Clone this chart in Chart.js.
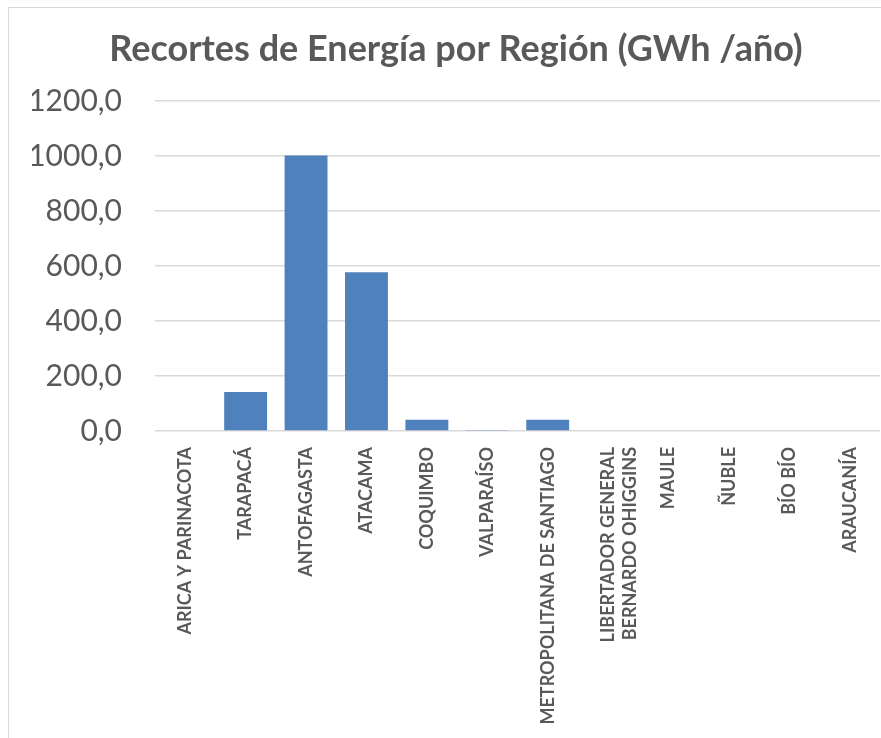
<!DOCTYPE html>
<html lang="es">
<head>
    <meta charset="UTF-8">
    <title>Recortes de Energía por Región</title>
    <script src="https://cdn.jsdelivr.net/npm/chart.js@4.4.0/dist/chart.umd.min.js"></script>
    <style>
        html, body { margin: 0; padding: 0; background: #fff; }
        #wrap { position: relative; width: 881px; height: 738px; }
        #frame { position: absolute; left: 8px; top: 7px; width: 880px; height: 740px; border: 1px solid #d9d9d9; box-sizing: border-box; }
        canvas { position: absolute; left: 0; top: 0; }
    </style>
</head>
<body>
<div id="wrap">
    <div id="frame"></div>
    <canvas id="chart" width="881" height="738"></canvas>
</div>
<script>
    // regiones (eje X)
    var regiones = [
        'ARICA Y PARINACOTA',
        'TARAPACÁ',
        'ANTOFAGASTA',
        'ATACAMA',
        'COQUIMBO',
        'VALPARAÍSO',
        'METROPOLITANA DE SANTIAGO',
        ['LIBERTADOR GENERAL', 'BERNARDO OHIGGINS'],
        'MAULE',
        'ÑUBLE',
        'BÍO BÍO',
        'ARAUCANÍA'
    ];

    // recortes en GWh/año
    var recortes = [0, 142, 1002, 578, 41, 4, 41, 0, 0, 0, 0, 0];

    var gris = '#595959';

    var ctx = document.getElementById('chart').getContext('2d');
    new Chart(ctx, {
        type: 'bar',
        data: {
            labels: regiones,
            datasets: [{
                label: 'Recortes (GWh/año)',
                data: recortes,
                backgroundColor: '#4F81BD',
                borderWidth: 0,
                barPercentage: 0.71,
                categoryPercentage: 1
            }]
        },
        options: {
            responsive: false,
            animation: false,
            layout: { padding: { top: 18, right: 1, left: 32, bottom: 0 } },
            plugins: {
                legend: { display: false },
                tooltip: { enabled: false },
                title: {
                    display: true,
                    text: 'Recortes de Energía por Región (GWh /año)',
                    color: gris,
                    font: { family: 'Lato', size: 36, weight: 'bold' },
                    padding: { top: 10, bottom: 30 }
                }
            },
            scales: {
                x: {
                    grid: { display: false },
                    border: { display: false },
                    ticks: {
                        color: gris,
                        font: { family: 'Lato', size: 18, weight: 'bold' },
                        minRotation: 90,
                        maxRotation: 90,
                        autoSkip: false,
                        padding: 8
                    },
                    afterFit: function(scale) { scale.height = 307; }
                },
                y: {
                    min: 0,
                    max: 1200,
                    ticks: {
                        stepSize: 200,
                        color: gris,
                        font: { family: 'Lato', size: 30 },
                        padding: 33,
                        callback: function(v) { return v.toFixed(1).replace('.', ','); }
                    },
                    grid: { color: '#d9d9d9', lineWidth: 1.5, drawTicks: false },
                    border: { display: false },
                    afterFit: function(scale) { scale.width = 123; }
                }
            }
        }
    });
</script>
</body>
</html>
